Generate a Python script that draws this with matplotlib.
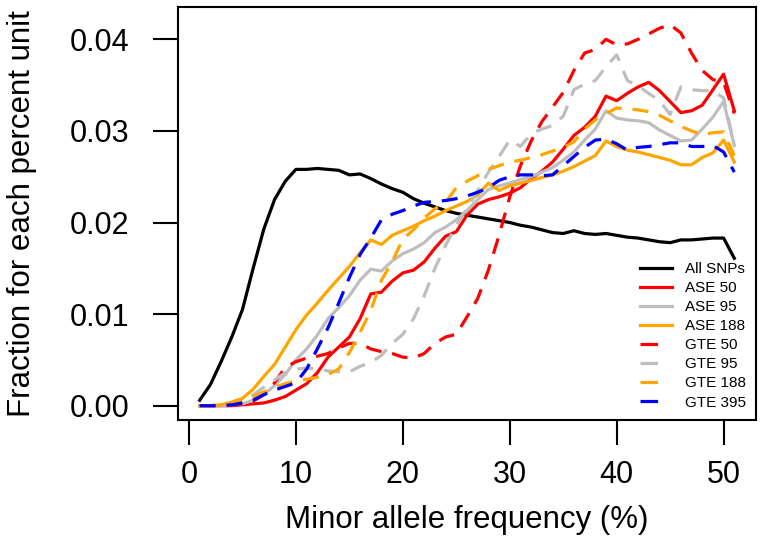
import numpy as np
import matplotlib
matplotlib.use("Agg")
import matplotlib.pyplot as plt
from matplotlib.lines import Line2D

plt.rcParams["font.family"] = ["Liberation Sans", "DejaVu Sans"]

# minor allele frequency bins (%)
maf = np.arange(1, 52)

all_snps = [0.0006, 0.0023, 0.0048, 0.0075, 0.0105, 0.0150, 0.0193, 0.0225, 0.0245, 0.0258,
            0.0258, 0.0259, 0.0258, 0.0257, 0.0252, 0.0253, 0.0248, 0.0242, 0.0237, 0.0233,
            0.0226, 0.0221, 0.0217, 0.0213, 0.0210, 0.0208, 0.0206, 0.0204, 0.0202, 0.0200,
            0.0197, 0.0195, 0.0192, 0.0189, 0.0188, 0.0191, 0.0188, 0.0187, 0.0188, 0.0186,
            0.0184, 0.0183, 0.0181, 0.0179, 0.0178, 0.0181, 0.0181, 0.0182, 0.0183, 0.0183,
            0.0161]
ase_50 = [0, 0, 0, 0, 0.0001, 0.0002, 0.0003, 0.0006, 0.0010, 0.0017,
          0.0024, 0.0036, 0.0053, 0.0064, 0.0075, 0.0095, 0.0122, 0.0124, 0.0136, 0.0145,
          0.0148, 0.0157, 0.0172, 0.0185, 0.0190, 0.0208, 0.0220, 0.0225, 0.0228, 0.0232,
          0.0238, 0.0248, 0.0256, 0.0266, 0.0280, 0.0295, 0.0304, 0.0316, 0.0338, 0.0333,
          0.0341, 0.0348, 0.0353, 0.0344, 0.0332, 0.0320, 0.0322, 0.0328, 0.0345, 0.0362,
          0.0322]
ase_95 = [0, 0, 0, 0.0001, 0.0002, 0.0006, 0.0012, 0.0022, 0.0034, 0.0050,
          0.0062, 0.0077, 0.0095, 0.0107, 0.0120, 0.0137, 0.0149, 0.0147, 0.0158, 0.0166,
          0.0171, 0.0178, 0.0189, 0.0195, 0.0203, 0.0213, 0.0225, 0.0236, 0.0240, 0.0243,
          0.0247, 0.0250, 0.0255, 0.0260, 0.0268, 0.0277, 0.0290, 0.0302, 0.0322, 0.0314,
          0.0312, 0.0311, 0.0309, 0.0301, 0.0295, 0.0289, 0.0290, 0.0302, 0.0315, 0.0332,
          0.0284]
ase_188 = [0, 0, 0.0001, 0.0004, 0.0008, 0.0018, 0.0032, 0.0045, 0.0064, 0.0083,
           0.0099, 0.0112, 0.0126, 0.0139, 0.0152, 0.0167, 0.0181, 0.0176, 0.0186, 0.0191,
           0.0196, 0.0202, 0.0207, 0.0213, 0.0218, 0.0223, 0.0230, 0.0243, 0.0235, 0.0240,
           0.0243, 0.0246, 0.0249, 0.0252, 0.0256, 0.0261, 0.0267, 0.0273, 0.0289, 0.0283,
           0.0279, 0.0277, 0.0274, 0.0271, 0.0268, 0.0263, 0.0263, 0.0271, 0.0276, 0.0290,
           0.0266]
gte_50 = [0, 0, 0, 0.0001, 0.0002, 0.0005, 0.0012, 0.0025, 0.0042, 0.0048,
          0.0052, 0.0054, 0.0057, 0.0063, 0.0068, 0.0068, 0.0062, 0.0059, 0.0057, 0.0053,
          0.0052, 0.0057, 0.0068, 0.0075, 0.0078, 0.0097, 0.0117, 0.0148, 0.0186, 0.0228,
          0.0262, 0.0289, 0.0310, 0.0326, 0.0342, 0.0366, 0.0385, 0.0389, 0.0400, 0.0394,
          0.0395, 0.0400, 0.0406, 0.0412, 0.0416, 0.0407, 0.0385, 0.0366, 0.0356, 0.0353,
          0.0319]
gte_95 = [0, 0, 0.0001, 0.0002, 0.0005, 0.0012, 0.0020, 0.0028, 0.0036, 0.0040,
          0.0041, 0.0040, 0.0038, 0.0037, 0.0037, 0.0043, 0.0047, 0.0055, 0.0068, 0.0078,
          0.0095, 0.0120, 0.0150, 0.0175, 0.0197, 0.0215, 0.0235, 0.0255, 0.0272, 0.0290,
          0.0283, 0.0297, 0.0302, 0.0306, 0.0316, 0.0345, 0.0351, 0.0355, 0.0370, 0.0383,
          0.0355, 0.0349, 0.0341, 0.0333, 0.0318, 0.0348, 0.0345, 0.0344, 0.0344, 0.0336,
          0.0285]
gte_188 = [0, 0, 0.0001, 0.0003, 0.0006, 0.0010, 0.0015, 0.0020, 0.0024, 0.0027,
           0.0029, 0.0031, 0.0034, 0.0040, 0.0058, 0.0080, 0.0104, 0.0137, 0.0157, 0.0182,
           0.0192, 0.0205, 0.0215, 0.0222, 0.0238, 0.0245, 0.0251, 0.0258, 0.0262, 0.0266,
           0.0268, 0.0271, 0.0274, 0.0278, 0.0282, 0.0288, 0.0302, 0.0312, 0.0319, 0.0325,
           0.0324, 0.0323, 0.0321, 0.0317, 0.0311, 0.0305, 0.0300, 0.0296, 0.0298, 0.0299,
           0.0273]
gte_395 = [0, 0, 0, 0.0001, 0.0003, 0.0006, 0.0012, 0.0017, 0.0021, 0.0025,
           0.0040, 0.0062, 0.0085, 0.0112, 0.0140, 0.0165, 0.0183, 0.0203, 0.0209, 0.0213,
           0.0218, 0.0222, 0.0223, 0.0224, 0.0226, 0.0229, 0.0233, 0.0238, 0.0246, 0.0250,
           0.0252, 0.0252, 0.0251, 0.0252, 0.0262, 0.0272, 0.0282, 0.0290, 0.0291, 0.0286,
           0.0279, 0.0282, 0.0283, 0.0285, 0.0287, 0.0287, 0.0283, 0.0283, 0.0284, 0.0277,
           0.0255]

series = [
    ("All SNPs", all_snps, "black", False),
    ("ASE 50", ase_50, "#FF0000", False),
    ("ASE 95", ase_95, "#BEBEBE", False),
    ("ASE 188", ase_188, "#FFA500", False),
    ("GTE 50", gte_50, "#FF0000", True),
    ("GTE 95", gte_95, "#BEBEBE", True),
    ("GTE 188", gte_188, "#FFA500", True),
    ("GTE 395", gte_395, "#0000FF", True),
]

LW = 2.3
DASH = (0, (5, 3.4))

fig = plt.figure(figsize=(7.64, 5.5), dpi=100)
ax = fig.add_axes([0.2334, 0.2364, 0.7557, 0.7509])

for name, vals, col, dashed in series:
    ax.plot(maf, vals, color=col, lw=LW,
            ls=DASH if dashed else "-", dash_capstyle="butt",
            solid_joinstyle="round")

ax.set_xlim(-1, 53)
ax.set_ylim(-0.00156, 0.04353)
ax.set_xticks([0, 10, 20, 30, 40, 50])
ax.set_yticks([0, 0.01, 0.02, 0.03, 0.04])
ax.set_yticklabels(["0.00", "0.01", "0.02", "0.03", "0.04"])
ax.tick_params(axis="both", length=18, width=1.5, labelsize=22, color="black")
ax.tick_params(axis="x", pad=11)
ax.tick_params(axis="y", pad=17)
for sp in ax.spines.values():
    sp.set_linewidth(1.5)

ax.set_xlabel("Minor allele frequency (%)", fontsize=22.5)
ax.set_ylabel("Fraction for each percent unit", fontsize=22.5)
ax.xaxis.set_label_coords(0.5, -0.205)
ax.yaxis.set_label_coords(-0.245, 0.5)

# legend: solid keys as full segments, dashed keys show one dash (as in R)
handles = []
for name, vals, col, dashed in series:
    if dashed:
        handles.append(Line2D([], [], color=col, lw=LW, ls=(0, (5.5, 8)),
                              dash_capstyle="butt"))
    else:
        handles.append(Line2D([], [], color=col, lw=LW))
ax.legend(handles, [s[0] for s in series], loc="upper left",
          bbox_to_anchor=(0.7996, 0.382), frameon=False, fontsize=11,
          handlelength=2.1, handletextpad=0.85, labelspacing=0.33,
          borderpad=0, borderaxespad=0)

fig.savefig("out.png", dpi=100)
